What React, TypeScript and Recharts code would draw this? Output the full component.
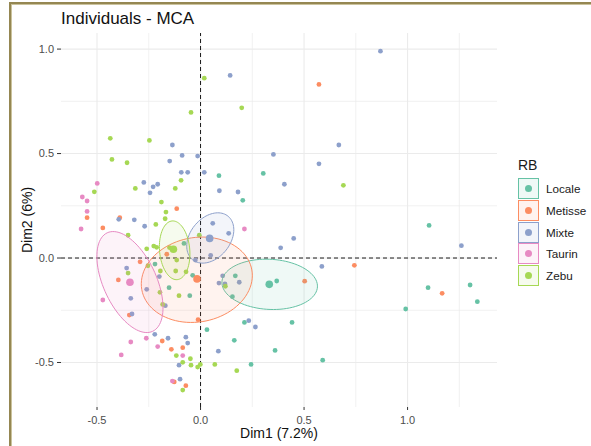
import { ScatterChart, Scatter, XAxis, YAxis, ReferenceLine } from "recharts";

const FONT = "'Liberation Sans', Arial, sans-serif";

const GROUPS = ["Locale", "Metisse", "Mixte", "Taurin", "Zebu"];
const COLORS = ["#66C2A5", "#FC8D62", "#8DA0CB", "#E78AC3", "#A6D854"];

// individual coordinates [Dim1, Dim2]
const locale: [number, number][] = [
  [0.089, 0.394], [0.303, 0.405], [0.204, 0.276], [0.168, -0.085], [0.368, -0.11],
  [-0.152, -0.142], [0.154, -0.185], [-0.052, -0.18], [-0.038, -0.083], [-0.08, 0.07],
  [-0.22, -0.029], [1.104, 0.156], [1.099, -0.142], [1.302, -0.129], [1.337, -0.209],
  [0.991, -0.244], [0.442, -0.308], [0.59, -0.489], [0.212, -0.308], [0.031, -0.343],
  [0.163, -0.394], [0.36, -0.442], [0.244, -0.509],
];

const metisse: [number, number][] = [
  [0.572, 0.831], [-0.115, 0.236], [-0.548, 0.193], [-0.39, 0.193], [-0.472, 0.144],
  [-0.163, 0.018], [-0.292, -0.018], [-0.397, -0.105], [0.743, -0.035], [0.503, -0.111],
  [1.167, -0.169], [-0.344, -0.273], [-0.012, -0.295], [-0.185, -0.397], [-0.086, -0.429],
  [-0.141, -0.437], [-0.127, -0.593], [-0.071, -0.611],
];

const mixte: [number, number][] = [
  [0.869, 0.99], [0.143, 0.874], [0.668, 0.541], [-0.136, 0.541], [-0.089, 0.491],
  [-0.014, 0.488], [0.352, 0.496], [-0.149, 0.464], [0.572, 0.451], [-0.093, 0.41],
  [-0.062, 0.41], [0.018, 0.41], [-0.274, 0.362], [-0.207, 0.353], [-0.229, 0.341],
  [0.405, 0.353], [-0.244, 0.312], [0.091, 0.322], [0.181, 0.316], [-0.395, 0.185],
  [-0.32, 0.183], [-0.27, 0.152], [0.059, 0.166], [0.136, 0.118], [0.45, 0.094],
  [0.387, 0.049], [1.26, 0.059], [0.049, 0.013], [-0.025, -0.01], [-0.357, -0.048],
  [0.586, -0.04], [0.107, -0.085], [0.089, -0.12], [0.118, -0.124], [0.187, -0.116],
  [-0.199, -0.089], [-0.26, -0.15], [-0.337, -0.193], [-0.331, -0.268], [-0.17, -0.228],
  [0.233, -0.3], [0.265, -0.33], [-0.221, -0.365], [-0.157, -0.384], [-0.071, -0.379],
  [-0.062, -0.407], [0.086, -0.446], [-0.104, -0.513], [-0.099, -0.58],
];

const taurin: [number, number][] = [
  [-0.499, 0.357], [-0.571, 0.292], [-0.548, 0.273], [-0.548, 0.223], [-0.577, 0.139],
  [0.212, 0.139], [-0.472, -0.201], [-0.262, -0.384], [-0.337, -0.402], [-0.207, -0.424],
  [-0.383, -0.464], [-0.086, -0.467], [-0.136, -0.589],
];

const zebu: [number, number][] = [
  [0.018, 0.861], [0.199, 0.719], [-0.046, 0.697], [-0.436, 0.573], [-0.247, 0.563],
  [-0.428, 0.472], [-0.355, 0.456], [0.69, 0.348], [-0.094, 0.372], [-0.315, 0.333],
  [-0.122, 0.333], [-0.513, 0.317], [-0.189, 0.268], [-0.167, 0.22], [-0.171, 0.188],
  [-0.216, 0.161], [-0.35, 0.109], [-0.006, 0.109], [-0.26, 0.044], [-0.226, 0.057],
  [-0.212, 0.051], [-0.15, 0.05], [-0.254, -0.037], [-0.35, -0.072], [-0.194, -0.062],
  [-0.12, -0.062], [-0.115, -0.01], [-0.07, -0.066], [0.12, -0.135], [-0.196, -0.164],
  [-0.104, -0.18], [-0.183, -0.222], [-0.117, -0.467], [-0.049, -0.482], [-0.086, -0.499],
  [-0.046, -0.513], [-0.014, -0.522], [-0.001, -0.509], [0.069, -0.509], [0.175, -0.539],
  [-0.086, -0.632],
];

const GROUP_POINTS = [locale, metisse, mixte, taurin, zebu];

// group means
const centroids: [number, number][] = [
  [0.332, -0.126], [-0.017, -0.1], [0.044, 0.094], [-0.341, -0.116], [-0.131, 0.042],
];

// confidence ellipses: [cx, cy, semi-major, semi-minor, angle in degrees]
const ellipses: [number, number, number, number, number][] = [
  [0.334, -0.126, 0.231, 0.12, -3],
  [-0.018, -0.104, 0.27, 0.202, 10],
  [0.047, 0.096, 0.135, 0.096, 50],
  [-0.341, -0.115, 0.26, 0.128, 115],
  [-0.125, 0.037, 0.141, 0.073, 95],
];

const X_TICKS = [-0.5, 0, 0.5, 1];
const Y_TICKS = [-0.5, 0, 0.5, 1];
const X_GRID = [-0.5, -0.25, 0, 0.25, 0.5, 0.75, 1, 1.25];
const Y_GRID = [-0.5, -0.25, 0, 0.25, 0.5, 0.75, 1];

const toRows = (pts: [number, number][]) => pts.map(([x, y]) => ({ x, y }));

function ellipseOutline([cx, cy, a, b, deg]: [number, number, number, number, number]) {
  const t = (deg * Math.PI) / 180;
  const out: { x: number; y: number }[] = [];
  for (let i = 0; i <= 90; i++) {
    const u = (i / 90) * 2 * Math.PI;
    const ex = a * Math.cos(u);
    const ey = b * Math.sin(u);
    out.push({
      x: cx + ex * Math.cos(t) - ey * Math.sin(t),
      y: cy + ex * Math.sin(t) + ey * Math.cos(t),
    });
  }
  return out;
}

const dot = (color: string, r: number) => (p: any) =>
  <circle cx={p.cx} cy={p.cy} r={r} fill={color} />;

const noShape = () => <g />;

const ellipseLine = (color: string) => (p: any) => {
  const pts = (p.points || []) as { x: number; y: number }[];
  const d = pts.map((q, i) => `${i ? "L" : "M"}${q.x},${q.y}`).join("") + "Z";
  return <path d={d} fill={color} fillOpacity={0.1} stroke={color} strokeWidth={1} />;
};

const fmt = (v: number) => v.toFixed(1);

function LegendBox() {
  return (
    <div style={{ position: "absolute", left: 518, top: 158, fontFamily: FONT, color: "#1a1a1a" }}>
      <div style={{ fontSize: 14, lineHeight: "14px", height: 20 }}>RB</div>
      {GROUPS.map((g, i) => (
        <div key={g} style={{ display: "flex", alignItems: "center", height: 21.7 }}>
          <div
            style={{
              boxSizing: "border-box",
              width: 21,
              height: 21,
              border: `1px solid ${COLORS[i]}`,
              background: `${COLORS[i]}1a`,
              display: "flex",
              alignItems: "center",
              justifyContent: "center",
            }}
          >
            <div style={{ width: 7, height: 7, borderRadius: "50%", background: COLORS[i] }} />
          </div>
          <span style={{ marginLeft: 7, fontSize: 11.7 }}>{g}</span>
        </div>
      ))}
    </div>
  );
}

export default function App() {
  return (
    <div
      style={{
        position: "fixed",
        left: 0,
        top: 0,
        width: 591,
        height: 446,
        overflow: "hidden",
        background: "#fff",
      }}
    >
      <div
        style={{
          position: "absolute",
          left: 9,
          top: 2,
          width: 620,
          height: 480,
          borderLeft: "2px solid #958752",
          borderTop: "2px solid #958752",
          boxShadow: "inset 1px 1px 0 #cbc39d",
        }}
      />
      <div
        style={{
          position: "absolute",
          left: 61,
          top: 10,
          fontFamily: FONT,
          fontSize: 17,
          lineHeight: "17px",
          color: "#111",
        }}
      >
        Individuals - MCA
      </div>
      <div style={{ position: "absolute", left: 0, top: 0 }}>
        <ScatterChart width={591} height={446} margin={{ top: 33, right: 94, bottom: 0, left: 21 }}>
          <XAxis
            type="number"
            dataKey="x"
            domain={[-0.674, 1.432]}
            allowDataOverflow
            ticks={X_TICKS}
            tickFormatter={fmt}
            height={39}
            axisLine={false}
            tickLine={{ stroke: "#333" }}
            tickSize={3}
            tickMargin={6}
            tick={{ fill: "#4D4D4D", fontSize: 11, fontFamily: FONT }}
            label={{
              value: "Dim1 (7.2%)",
              position: "insideBottom",
              offset: 8,
              style: { fill: "#111", fontSize: 14, fontFamily: FONT },
            }}
          />
          <YAxis
            type="number"
            dataKey="y"
            domain={[-0.713, 1.077]}
            allowDataOverflow
            ticks={Y_TICKS}
            tickFormatter={fmt}
            width={40}
            axisLine={false}
            tickLine={{ stroke: "#333" }}
            tickSize={4}
            tickMargin={3}
            tick={{ fill: "#4D4D4D", fontSize: 11, fontFamily: FONT }}
            label={{
              value: "Dim2 (6%)",
              angle: -90,
              position: "insideLeft",
              offset: 6,
              style: { fill: "#111", fontSize: 14, fontFamily: FONT, textAnchor: "middle" },
            }}
          />
          {X_GRID.map((v) => (
            <ReferenceLine key={`gx${v}`} x={v} stroke="#EBEBEB" strokeWidth={v * 2 === Math.round(v * 2) ? 1.1 : 0.7} />
          ))}
          {Y_GRID.map((v) => (
            <ReferenceLine key={`gy${v}`} y={v} stroke="#EBEBEB" strokeWidth={v * 2 === Math.round(v * 2) ? 1.1 : 0.7} />
          ))}
          {GROUP_POINTS.map((pts, i) => (
            <Scatter
              key={`p${i}`}
              name={GROUPS[i]}
              data={toRows(pts)}
              shape={dot(COLORS[i], 2.4)}
              isAnimationActive={false}
            />
          ))}
          {ellipses.map((e, i) => (
            <Scatter
              key={`e${i}`}
              data={ellipseOutline(e)}
              shape={noShape}
              line={ellipseLine(COLORS[i])}
              lineType="joint"
              isAnimationActive={false}
            />
          ))}
          <ReferenceLine x={0} stroke="#000" strokeWidth={0.9} strokeDasharray="4 3" />
          <ReferenceLine y={0} stroke="#000" strokeWidth={0.9} strokeDasharray="4 3" />
          {centroids.map((c, i) => (
            <Scatter
              key={`c${i}`}
              data={toRows([c])}
              shape={dot(COLORS[i], 3.8)}
              isAnimationActive={false}
            />
          ))}
        </ScatterChart>
      </div>
      <LegendBox />
    </div>
  );
}
